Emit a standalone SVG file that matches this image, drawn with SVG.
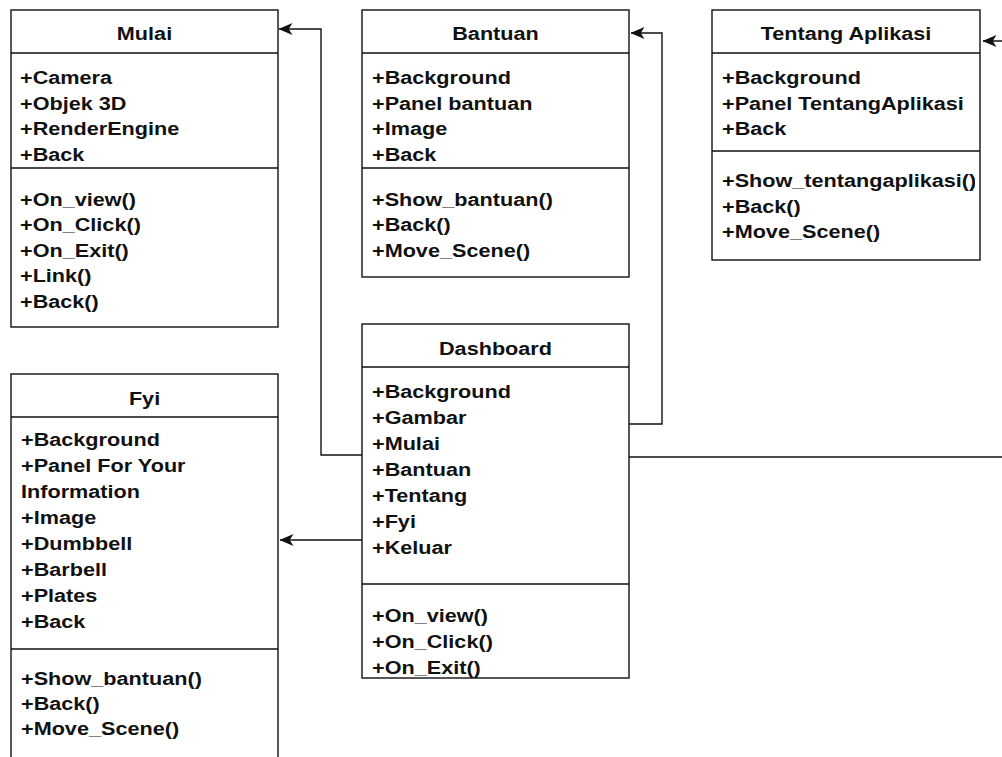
<svg xmlns="http://www.w3.org/2000/svg" width="1002" height="757" viewBox="0 0 1002 757">
<style>
.box{fill:#fff;stroke:#111;stroke-width:1.4}
.div{stroke:#111;stroke-width:1.4;fill:none}
.t{font-family:"Liberation Sans",Arial,sans-serif;font-weight:bold;font-size:18.5px;fill:#111}
.h{text-anchor:middle}
.conn{fill:none;stroke:#111;stroke-width:1.4}
</style>
<defs>
<marker id="arr" viewBox="0 0 14 12" refX="13.5" refY="6" markerWidth="14" markerHeight="12" markerUnits="userSpaceOnUse" orient="auto">
<path d="M14,6 L0,0 L3.8,6 L0,12 Z" fill="#111"/>
</marker>
<clipPath id="clipT"><rect x="712" y="10" width="263" height="250"/></clipPath>
</defs>
<rect width="1002" height="757" fill="#fff"/>
<g id="connectors">
<path class="conn" d="M362,455 H321 V29 H279" marker-end="url(#arr)"/>
<path class="conn" d="M629,424 H662 V33 H631" marker-end="url(#arr)"/>
<path class="conn" d="M629,457 H1015 V41 H983" marker-end="url(#arr)"/>
<path class="conn" d="M362,540 H280" marker-end="url(#arr)"/>
</g>
<g id="mulai">
<rect class="box" x="11" y="10" width="267" height="317"/>
<path class="div" d="M11,53 H278 M11,168 H278"/>
<g transform="translate(144.5,0) scale(1.17,1)"><text class="t h" x="0" y="40">Mulai</text></g>
<g transform="translate(20,0) scale(1.17,1)">
<text class="t" x="0" y="84">+Camera</text>
<text class="t" x="0" y="109.6">+Objek 3D</text>
<text class="t" x="0" y="135.2">+RenderEngine</text>
<text class="t" x="0" y="160.8">+Back</text>
<text class="t" x="0" y="206">+On_view()</text>
<text class="t" x="0" y="231.5">+On_Click()</text>
<text class="t" x="0" y="257">+On_Exit()</text>
<text class="t" x="0" y="282.5">+Link()</text>
<text class="t" x="0" y="308">+Back()</text>
</g>
</g>
<g id="bantuan">
<rect class="box" x="362" y="10" width="267" height="267"/>
<path class="div" d="M362,53 H629 M362,168 H629"/>
<g transform="translate(495.5,0) scale(1.17,1)"><text class="t h" x="0" y="40">Bantuan</text></g>
<g transform="translate(372,0) scale(1.17,1)">
<text class="t" x="0" y="84">+Background</text>
<text class="t" x="0" y="109.6">+Panel bantuan</text>
<text class="t" x="0" y="135.2">+Image</text>
<text class="t" x="0" y="160.8">+Back</text>
<text class="t" x="0" y="206">+Show_bantuan()</text>
<text class="t" x="0" y="231.5">+Back()</text>
<text class="t" x="0" y="257">+Move_Scene()</text>
</g>
</g>
<g id="tentang">
<rect class="box" x="712" y="10" width="268" height="250"/>
<path class="div" d="M712,53 H980 M712,151 H980"/>
<g transform="translate(846,0) scale(1.17,1)"><text class="t h" x="0" y="40">Tentang Aplikasi</text></g>
<g clip-path="url(#clipT)">
<g transform="translate(722,0) scale(1.17,1)">
<text class="t" x="0" y="84">+Background</text>
<text class="t" x="0" y="109.6">+Panel TentangAplikasi</text>
<text class="t" x="0" y="135.2">+Back</text>
<text class="t" x="0" y="187.5">+Show_tentangaplikasi()</text>
<text class="t" x="0" y="213">+Back()</text>
<text class="t" x="0" y="238.5">+Move_Scene()</text>
</g>
</g>
</g>
<g id="dashboard">
<rect class="box" x="362" y="324" width="267" height="354"/>
<path class="div" d="M362,367 H629 M362,584 H629"/>
<g transform="translate(495.5,0) scale(1.17,1)"><text class="t h" x="0" y="355">Dashboard</text></g>
<g transform="translate(372,0) scale(1.17,1)">
<text class="t" x="0" y="398.5">+Background</text>
<text class="t" x="0" y="424.5">+Gambar</text>
<text class="t" x="0" y="450.5">+Mulai</text>
<text class="t" x="0" y="476.5">+Bantuan</text>
<text class="t" x="0" y="502.5">+Tentang</text>
<text class="t" x="0" y="528.5">+Fyi</text>
<text class="t" x="0" y="554.5">+Keluar</text>
<text class="t" x="0" y="622">+On_view()</text>
<text class="t" x="0" y="648">+On_Click()</text>
<text class="t" x="0" y="674">+On_Exit()</text>
</g>
</g>
<g id="fyi">
<rect class="box" x="11" y="374" width="267" height="420"/>
<path class="div" d="M11,417 H278 M11,649 H278"/>
<g transform="translate(144.5,0) scale(1.17,1)"><text class="t h" x="0" y="405">Fyi</text></g>
<g transform="translate(21,0) scale(1.17,1)">
<text class="t" x="0" y="446.5">+Background</text>
<text class="t" x="0" y="472.5">+Panel For Your</text>
<text class="t" x="0" y="498.5">Information</text>
<text class="t" x="0" y="524.5">+Image</text>
<text class="t" x="0" y="550.5">+Dumbbell</text>
<text class="t" x="0" y="576.5">+Barbell</text>
<text class="t" x="0" y="602.5">+Plates</text>
<text class="t" x="0" y="628.5">+Back</text>
<text class="t" x="0" y="685">+Show_bantuan()</text>
<text class="t" x="0" y="710">+Back()</text>
<text class="t" x="0" y="735">+Move_Scene()</text>
</g>
</g>
</svg>
